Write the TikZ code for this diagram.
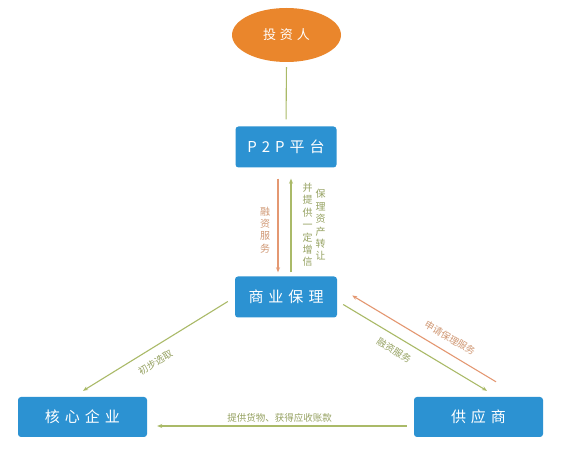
\documentclass[tikz,border=0pt]{standalone}
\usepackage{fontspec}
\newfontfamily\cjk{Noto Sans CJK SC}
\usetikzlibrary{arrows.meta,shapes.geometric}
\definecolor{boxblue}{RGB}{44,146,210}
\definecolor{eorange}{RGB}{234,134,44}
\definecolor{lgreen}{RGB}{170,186,104}
\definecolor{lorange}{RGB}{228,152,114}
\definecolor{tgreen}{RGB}{150,162,98}
\definecolor{torange}{RGB}{208,152,116}
\begin{document}
\begin{tikzpicture}[x=1pt,y=-1pt,
  box/.style={fill=boxblue, rounded corners=3pt, minimum height=41pt, text=white,
    font=\cjk\fontsize{15}{18}\selectfont, inner sep=0pt},
  vlab/.style={align=center, inner sep=0pt, font=\cjk\fontsize{10}{12.4}\selectfont},
  lab/.style={font=\cjk\fontsize{9.5}{11}\selectfont, inner sep=1pt},
  gline/.style={draw=lgreen, line width=1.1pt},
  oline/.style={draw=lorange, line width=1.1pt},
  tip/.style={-{Stealth[length=5pt,width=4pt]}}
]
\useasboundingbox (0,0) rectangle (566,449);
\fill[white] (0,0) rectangle (566,449);

\node[ellipse, fill=eorange, minimum width=109pt, minimum height=54pt, inner sep=0pt,
  text=white, font=\cjk\fontsize{13}{15}\selectfont] (inv) at (286.5,35)
  {投\hspace{4pt}资\hspace{4pt}人};
\node[box, minimum width=101pt] (p2p) at (286,147)
  {P\hspace{5pt}2\hspace{5pt}P\hspace{5pt}平\hspace{5pt}台};
\node[box, minimum width=102pt] (fac) at (286,297)
  {商\hspace{5pt}业\hspace{5pt}保\hspace{5pt}理};
\node[box, minimum width=129pt, minimum height=40pt] (core) at (82.5,417)
  {核\hspace{5pt}心\hspace{5pt}企\hspace{5pt}业};
\node[box, minimum width=129pt, minimum height=40pt] (sup) at (478.5,417)
  {供\hspace{5pt}应\hspace{5pt}商};

% investor to platform
\draw[gline, shorten <=5pt, shorten >=7pt] (inv.south) -- (p2p.north);

% vertical arrows
\draw[oline, tip, shorten <=11pt, shorten >=4pt]
  ([xshift=-8pt]p2p.south) -- ([xshift=-8pt]fac.north);
\draw[gline, tip, shorten <=4pt, shorten >=11pt]
  ([xshift=5pt]fac.north) -- ([xshift=5pt]p2p.south);
\node[vlab, text=torange] (v1) at (265,230) {融\\资\\服\\务};
\node[vlab, text=tgreen] (v2) at (307.5,225) {并\\提\\供\\一\\定\\增\\信};
\node[vlab, text=tgreen] (v3) at (320.5,225) {保\\理\\资\\产\\转\\让};

% factoring to core enterprise
\draw[gline, tip] ([shift={(-7,4.5)}]fac.west) -- ([shift={(0.5,-6)}]core.north)
  node[lab, pos=0.55, sloped, below=8pt, text=tgreen] (l1) {初步选取};

% supplier to core enterprise
\draw[gline, tip] ([shift={(-7,9)}]sup.west) -- ([shift={(10,9)}]core.east)
  node[lab, pos=0.51, above=2pt, text=tgreen] (l2) {提供货物、获得应收账款};

% supplier to factoring (apply)
\draw[oline, tip] ([shift={(17.5,-15)}]sup.north) -- ([shift={(15,-1.5)}]fac.east)
  node[lab, pos=0.37, sloped, above=8pt, text=torange] (l3) {申请保理服务};

% factoring to supplier (financing)
\draw[gline, tip] ([shift={(6,7.5)}]fac.east) -- ([shift={(8.5,-6)}]sup.north)
  node[lab, pos=0.4, sloped, below=7pt, text=tgreen] (l4) {融资服务};
\end{tikzpicture}
\end{document}
